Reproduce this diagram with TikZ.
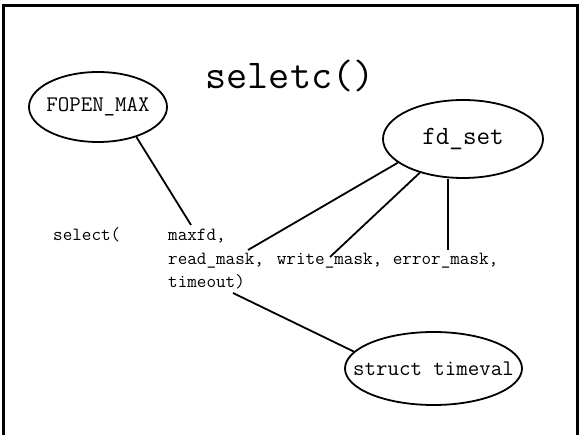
\documentclass[tikz,border=0pt]{standalone}
\usepackage{fontspec}
\usetikzlibrary{shapes.geometric}
\newcommand{\fixedlabel}[1]{\makebox[0pt]{#1}}
\tikzset{
  bubble/.style={ellipse, draw, line width=1.8pt, inner sep=0pt, font=\ttfamily\fontsize{22.3}{24}\selectfont},
  code/.style={anchor=base west, inner sep=0pt, font=\ttfamily\fontsize{18.6}{20}\selectfont},
  link/.style={line width=1.8pt},
}
\begin{document}
\begin{tikzpicture}[x=1pt, y=-1pt]
  \useasboundingbox (0,0) rectangle (582,435);
  % frame, open at the bottom of the page
  \draw[line width=3pt] (3.5,445) -- (3.5,6) -- (577.5,6) -- (577.5,445);

  % title
  \node[anchor=base, inner sep=0pt, font=\ttfamily\fontsize{41}{44}\selectfont] (title) at (290,89) {seletc()};

  % types
  \node[bubble, minimum width=138pt, minimum height=70pt] (fopen) at (98,107) {\fixedlabel{FOPEN\_MAX}};
  \node[bubble, minimum width=160pt, minimum height=78pt, font=\ttfamily\fontsize{26.3}{28}\selectfont] (fdset) at (463,139) {\fixedlabel{fd\_set}};
  \node[bubble, minimum width=177pt, minimum height=73pt] (tv) at (433.5,368.5) {\fixedlabel{struct timeval}};

  % the call
  \node[code] (sel) at (53,241) {select(};
  \node[code] (maxfd) at (168,241) {maxfd,};
  \node[code] (rmask) at (168,264.5) {read\_mask,};
  \node[code] (wmask) at (276.7,264.5) {write\_mask,};
  \node[code] (emask) at (392.7,264.5) {error\_mask,};
  \node[code] (tmo) at (168,288) {timeout)};

  % connector ends at the arguments
  \coordinate (pmax) at (191,225);
  \coordinate (pread) at (248,250);
  \coordinate (pwrite) at (330,257);
  \coordinate (perr) at (448,250);
  \coordinate (ptmo) at (233,293);

  \draw[link] (fopen.-38) -- (pmax);
  \draw[link] (fdset.200.6) -- (pread);
  \draw[link] (fdset.218.5) -- (pwrite);
  \draw[link] (perr |- fdset.south) -- (perr);
  \draw[link] (ptmo) -- (tv.168);
\end{tikzpicture}
\end{document}
